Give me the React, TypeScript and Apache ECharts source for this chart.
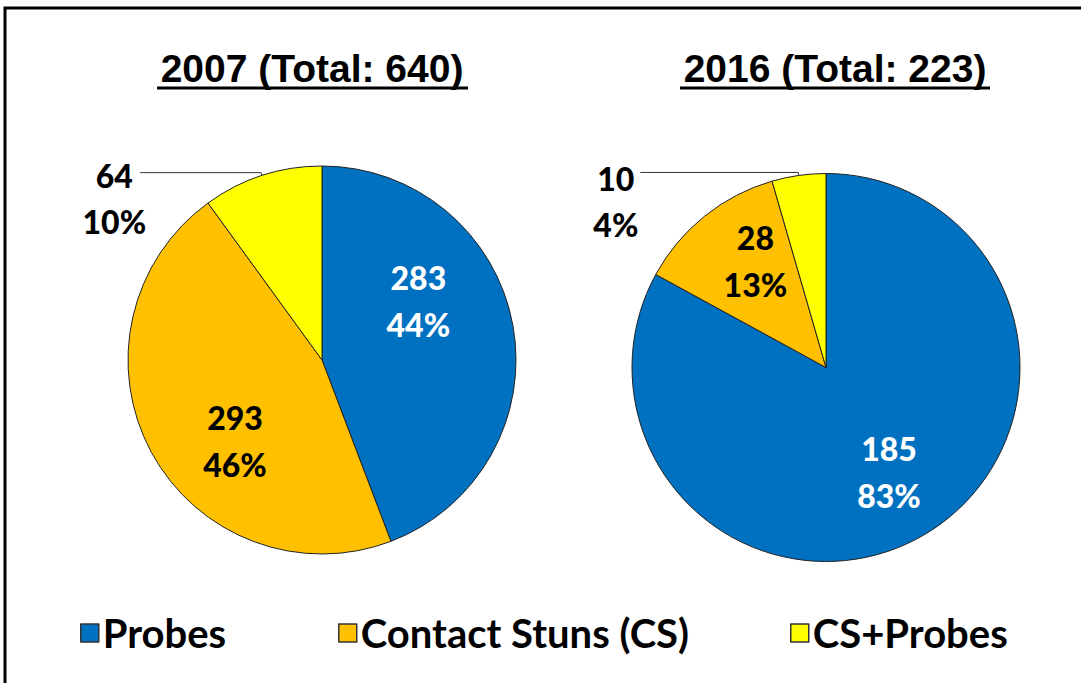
import React, { useEffect, useRef } from 'react';
import * as echarts from 'echarts';

const categories = ['Probes', 'Contact Stuns (CS)', 'CS+Probes'];
const years = ['2007', '2016'];
const values2007 = [283, 293, 64];
const values2016 = [185, 28, 10];

const sliceColors = ['#0070C0', '#FFC000', '#FFFF00'];
const insideLabelColors = ['#ffffff', '#000000', '#000000'];

// layout-only settings
const pieCenters = [[322, 360], [826, 367.5]];
const titleX = [312, 835];
const underline = [[157, 468], [680, 990]];
const labelShift = [
  [[-2, -41], [1, 33], null],
  [[12, 18], [-8, -29], null],
];
const outsideLine = [
  { length: 3, length2: 121, pad: 52, dist: -6 },
  { length: 3, length2: 158, pad: 59, dist: 2 },
];
const legendLeft = [75, 333, 785];

const LABEL_FONT = 'Lato';

export default function App() {
  const ref = useRef<HTMLDivElement>(null);

  useEffect(() => {
    if (!ref.current) return;
    const chart = echarts.init(ref.current, undefined, { renderer: 'svg' });
    const allValues = [values2007, values2016];

    const series = allValues.map((vals, si) => ({
      type: 'pie',
      name: years[si],
      center: pieCenters[si],
      radius: 194,
      startAngle: 90,
      clockwise: true,
      avoidLabelOverlap: false,
      percentPrecision: 0,
      itemStyle: { borderColor: '#222', borderWidth: 1 },
      emphasis: { disabled: true },
      label: {
        show: true,
        position: 'inside',
        formatter: '{c}\n{d}%',
        fontFamily: LABEL_FONT,
        fontWeight: 900,
        fontSize: 32,
        lineHeight: 47,
      },
      labelLine: { show: false },
      labelLayout: (params: any) => {
        const s = labelShift[si][params.dataIndex];
        return s ? { dx: s[0], dy: s[1] } : undefined;
      },
      data: vals.map((v, i) => {
        const item: any = {
          name: categories[i],
          value: v,
          itemStyle: { color: sliceColors[i] },
          label: { color: insideLabelColors[i] },
        };
        if (i === 2) {
          const o = outsideLine[si];
          item.label = {
            position: 'outside',
            color: '#000',
            distanceToLabelLine: o.dist,
            padding: [o.pad, 0, 0, 0],
            formatter: '{a|{c}}\n{a|{d}%}',
            rich: {
              a: {
                align: 'center',
                fontFamily: LABEL_FONT,
                fontWeight: 900,
                fontSize: 32,
                lineHeight: 46,
                color: '#000',
              },
            },
          };
          item.labelLine = {
            show: true,
            length: o.length,
            length2: o.length2,
            lineStyle: { color: '#333', width: 1 },
          };
        }
        return item;
      }),
    }));

    const graphics: any[] = [
      {
        type: 'rect',
        shape: { x: 5, y: 8, width: 1200, height: 800 },
        style: { fill: 'none', stroke: '#000', lineWidth: 3 },
        silent: true,
      },
    ];
    allValues.forEach((vals, si) => {
      const total = vals.reduce((a, b) => a + b, 0);
      graphics.push({
        type: 'text',
        x: titleX[si],
        y: 68,
        style: {
          text: `${years[si]} (Total: ${total})`,
          fontFamily: '"Liberation Sans", Arial, sans-serif',
          fontWeight: 'bold',
          fontSize: 39,
          fill: '#000',
          align: 'center',
          verticalAlign: 'middle',
        },
      });
      graphics.push({
        type: 'line',
        shape: { x1: underline[si][0], y1: 88, x2: underline[si][1], y2: 88 },
        style: { stroke: '#000', lineWidth: 3 },
      });
    });

    chart.setOption({
      animation: false,
      backgroundColor: '#ffffff',
      legend: categories.map((name, i) => ({
        data: [name],
        left: legendLeft[i],
        top: 608,
        icon: 'rect',
        itemWidth: 18,
        itemHeight: 18,
        itemGap: 0,
        selectedMode: false,
        itemStyle: { borderColor: '#333', borderWidth: 1.5 },
        textStyle: {
          fontFamily: LABEL_FONT,
          fontWeight: 'bold',
          fontSize: 40,
          color: '#000',
          padding: [0, 0, 0, -1],
        },
      })),
      graphic: graphics,
      series,
    } as any);

    return () => chart.dispose();
  }, []);

  return (
    <div
      ref={ref}
      style={{ position: 'absolute', left: 0, top: 0, width: 1081, height: 683, background: '#fff' }}
    />
  );
}
